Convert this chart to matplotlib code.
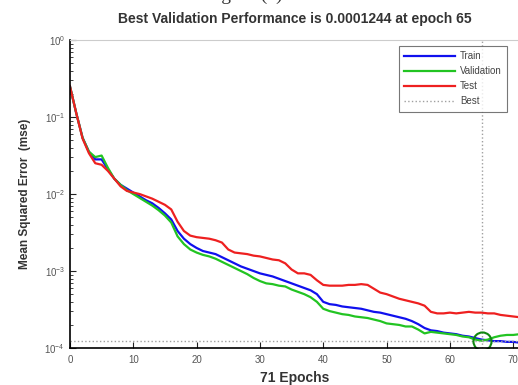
import numpy as np
import matplotlib
matplotlib.use("Agg")
import matplotlib.pyplot as plt

plt.rcParams['font.family'] = ['Liberation Sans', 'DejaVu Sans']

# log10(mse) per epoch
epochs = list(range(72))
train_log = [-0.60, -0.95, -1.27, -1.45, -1.55, -1.55, -1.68, -1.80, -1.88, -1.93,
             -1.98, -2.03, -2.08, -2.12, -2.18, -2.25, -2.33, -2.48, -2.58, -2.65,
             -2.70, -2.74, -2.76, -2.78, -2.82, -2.86, -2.90, -2.94, -2.97, -3.00,
             -3.03, -3.05, -3.07, -3.10, -3.13, -3.16, -3.19, -3.22, -3.25, -3.30,
             -3.40, -3.43, -3.44, -3.46, -3.47, -3.48, -3.49, -3.51, -3.53, -3.54,
             -3.56, -3.58, -3.60, -3.62, -3.65, -3.69, -3.74, -3.77, -3.78, -3.80,
             -3.81, -3.82, -3.84, -3.85, -3.87, -3.89, -3.90, -3.91, -3.91, -3.92,
             -3.92, -3.93]
val_log = [-0.60, -0.95, -1.27, -1.45, -1.52, -1.50, -1.66, -1.80, -1.88, -1.95,
           -2.00, -2.05, -2.10, -2.15, -2.21, -2.28, -2.37, -2.55, -2.65, -2.72,
           -2.76, -2.79, -2.81, -2.84, -2.88, -2.92, -2.96, -3.00, -3.04, -3.09,
           -3.13, -3.16, -3.17, -3.19, -3.20, -3.24, -3.27, -3.30, -3.34, -3.40,
           -3.49, -3.52, -3.54, -3.56, -3.57, -3.59, -3.60, -3.61, -3.63, -3.65,
           -3.68, -3.69, -3.70, -3.72, -3.72, -3.76, -3.81, -3.79, -3.80, -3.81,
           -3.82, -3.83, -3.85, -3.86, -3.89, -3.905, -3.89, -3.86, -3.84, -3.83,
           -3.83, -3.82]
test_log = [-0.60, -0.95, -1.28, -1.47, -1.60, -1.62, -1.70, -1.80, -1.90, -1.96,
            -1.98, -2.00, -2.03, -2.06, -2.10, -2.14, -2.20, -2.36, -2.48, -2.54,
            -2.56, -2.57, -2.58, -2.60, -2.63, -2.72, -2.76, -2.77, -2.78, -2.80,
            -2.81, -2.83, -2.85, -2.86, -2.90, -2.98, -3.03, -3.03, -3.05, -3.12,
            -3.18, -3.19, -3.19, -3.19, -3.18, -3.18, -3.17, -3.18, -3.23, -3.28,
            -3.30, -3.33, -3.36, -3.38, -3.40, -3.42, -3.45, -3.53, -3.55, -3.55,
            -3.54, -3.55, -3.54, -3.53, -3.54, -3.54, -3.55, -3.55, -3.57, -3.58,
            -3.59, -3.60]
best_epoch = 65
best_perf = 0.0001244

train = np.power(10.0, train_log)
val = np.power(10.0, val_log)
test = np.power(10.0, test_log)

fig = plt.figure(figsize=(5.18, 3.85), dpi=100)
ax = fig.add_axes([0.135, 0.096, 0.868, 0.800])

ax.semilogy(epochs, train, color='#1010ee', lw=1.6, label='Train')
ax.semilogy(epochs, val, color='#22c422', lw=1.6, label='Validation')
ax.semilogy(epochs, test, color='#ee2020', lw=1.6, label='Test')
ax.axvline(best_epoch, color='#a0a0a0', ls=':', lw=1.0, label='Best')
ax.axhline(best_perf, color='#a0a0a0', ls=':', lw=1.0)
ax.plot([best_epoch], [best_perf], 'o', mfc='none', mec='#118811', ms=13, mew=1.5)

ax.set_xlim(0, 71)
ax.set_ylim(1e-4, 1e0)
ax.set_xticks(range(0, 71, 10))
ax.tick_params(which='both', direction='in', labelsize=7, colors='#222222', labelcolor='#555555')
ax.tick_params(which='major', length=4)
ax.tick_params(which='minor', length=2)
ax.tick_params(axis='x', pad=5)
ax.spines['top'].set_color('#cccccc')
ax.spines['left'].set_linewidth(1.2)
ax.spines['bottom'].set_linewidth(1.2)

ax.set_title('Best Validation Performance is 0.0001244 at epoch 65',
             fontsize=10, fontweight='bold', color='#333333', pad=12)
ax.set_xlabel('71 Epochs', fontsize=10, fontweight='bold', color='#333333', labelpad=4)
ax.set_ylabel('Mean Squared Error  (mse)', fontsize=8.5, fontweight='bold',
              color='#333333', labelpad=10)

leg = ax.legend(loc='upper left', bbox_to_anchor=(0.72, 0.998), fontsize=7,
                handlelength=5.2, frameon=True, fancybox=False, borderpad=0.6,
                labelspacing=0.5, handletextpad=0.5)
leg.get_frame().set_edgecolor('#555555')
leg.get_frame().set_linewidth(0.8)
for t in leg.get_texts():
    t.set_color('#444444')

fig.text(0.47, 1.012, 'Figure (c)', ha='center', va='center', fontsize=14,
         family='Liberation Serif', color='#333333')

fig.savefig('out.png', dpi=100)
